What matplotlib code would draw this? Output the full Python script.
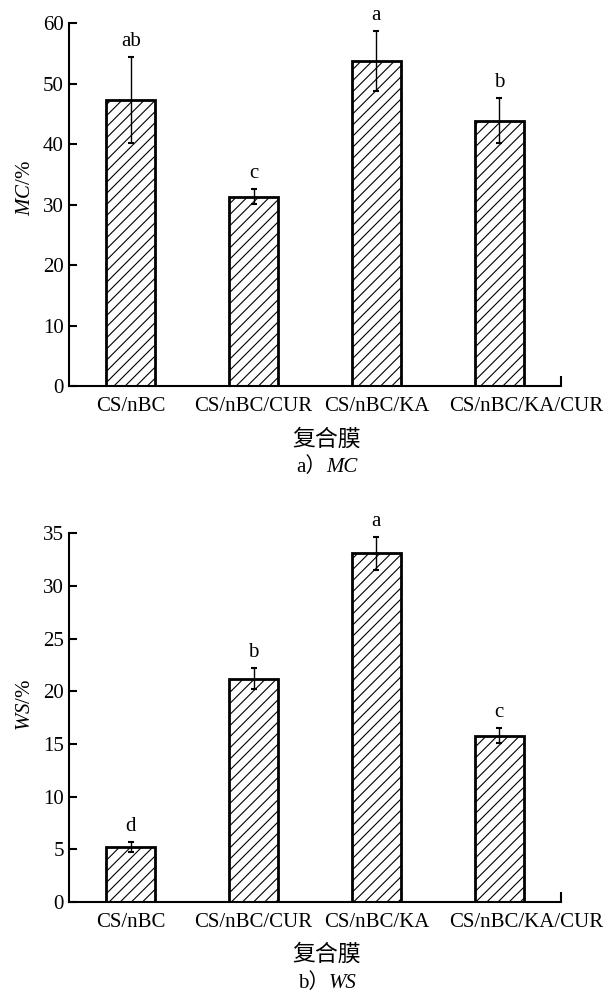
import matplotlib
matplotlib.use("Agg")
import matplotlib.pyplot as plt
from matplotlib.transforms import ScaledTranslation

plt.rcParams['font.family'] = ['Liberation Serif', 'Noto Sans CJK SC']
plt.rcParams['mathtext.fontset'] = 'custom'
plt.rcParams['mathtext.rm'] = 'Liberation Serif'
plt.rcParams['mathtext.it'] = 'Liberation Serif:italic'
plt.rcParams['hatch.linewidth'] = 0.8

# data
films = ['CS/nBC', 'CS/nBC/CUR', 'CS/nBC/KA', 'CS/nBC/KA/CUR']
mc = [47.3, 31.3, 53.7, 43.9]
mc_err = [7.1, 1.2, 5.0, 3.7]
mc_letters = ['ab', 'c', 'a', 'b']
ws = [5.2, 21.2, 33.1, 15.8]
ws_err = [0.45, 1.0, 1.55, 0.7]
ws_letters = ['d', 'b', 'a', 'c']

FS = 15
fig = plt.figure(figsize=(6.15, 9.94), dpi=100)
ax1 = fig.add_axes([0.1127, 0.6117, 0.799, 0.365])
ax2 = fig.add_axes([0.1127, 0.0926, 0.799, 0.3709])


def draw_panel(ax, vals, errs, letters, ymax, step, ylab):
    x = range(len(films))
    ax.bar(x, vals, width=0.4, color='white', edgecolor='black',
           linewidth=2.0, hatch='///', zorder=2)
    ax.errorbar(x, vals, yerr=errs, fmt='none', ecolor='black',
                elinewidth=1.0, capsize=2.5, capthick=1.5, zorder=3)
    for i, (v, e) in enumerate(zip(vals, errs)):
        ax.annotate(letters[i], (i, v + e), xytext=(0, 8),
                    textcoords='offset points', ha='center', va='baseline',
                    fontsize=FS, annotation_clip=False)
    ax.set_xlim(-0.5, 3.5)
    ax.set_ylim(0, ymax)
    ax.set_yticks(range(0, ymax + 1, step))
    ax.set_xticks(list(x))
    ax.set_xticklabels(films, fontsize=FS)
    ax.set_xticks([3.5], minor=True)
    ax.tick_params(axis='y', direction='in', length=6, width=1.5,
                   labelsize=FS, pad=4)
    ax.tick_params(axis='x', which='major', length=0, pad=8)
    ax.tick_params(axis='x', which='minor', direction='in', length=7,
                   width=1.5)
    # last label is pushed right so it does not run into its neighbour
    last = ax.get_xticklabels()[-1]
    last.set_transform(last.get_transform()
                       + ScaledTranslation(0.27, 0, fig.dpi_scale_trans))
    for s in ['top', 'right']:
        ax.spines[s].set_visible(False)
    for s in ['left', 'bottom']:
        ax.spines[s].set_linewidth(1.5)
    ax.set_ylabel(ylab, fontsize=FS)


draw_panel(ax1, mc, mc_err, mc_letters, 60, 10, r'$\mathit{MC}$/%')
draw_panel(ax2, ws, ws_err, ws_letters, 35, 5, r'$\mathit{WS}$/%')
ax1.yaxis.set_label_coords(-0.069, 0.545)
ax2.yaxis.set_label_coords(-0.069, 0.535)

# x titles and captions
fig.text(0.531, 0.5584, '复合膜', ha='center', va='center', fontsize=16.5,
         family='Noto Sans CJK SC')
fig.text(0.531, 0.530, 'a）', ha='right', va='center', fontsize=FS)
fig.text(0.531, 0.530, 'MC', ha='left', va='center', fontsize=FS,
         style='italic')
fig.text(0.531, 0.0395, '复合膜', ha='center', va='center', fontsize=16.5,
         family='Noto Sans CJK SC')
fig.text(0.535, 0.011, 'b）', ha='right', va='center', fontsize=FS)
fig.text(0.535, 0.011, 'WS', ha='left', va='center', fontsize=FS,
         style='italic')

fig.savefig('out.png', dpi=100)
